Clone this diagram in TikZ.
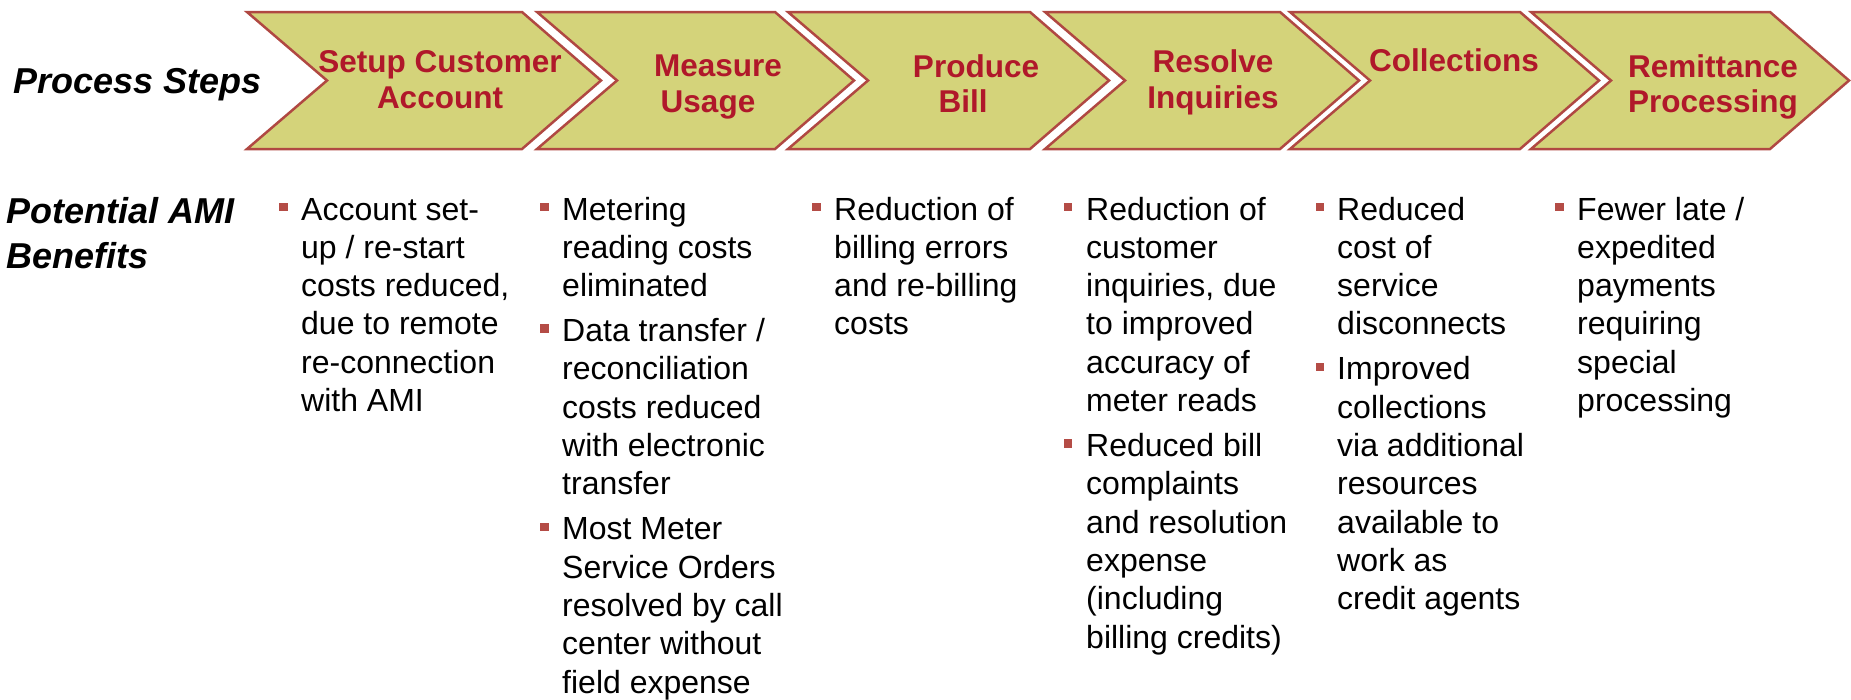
\documentclass[tikz,border=0pt]{standalone}
\usepackage{fontspec}
\setmainfont{Liberation Sans}
\definecolor{chevfill}{RGB}{212,211,122}
\definecolor{chevline}{RGB}{176,72,66}
\definecolor{chevtext}{RGB}{176,24,42}
\definecolor{bulletred}{RGB}{180,76,70}
\newcommand{\mylines}[1]{\begin{tabular}[t]{@{}l@{}}#1\end{tabular}}
\newcommand{\mycenter}[1]{\begin{tabular}[t]{@{}c@{}}#1\end{tabular}}
\begin{document}
\begin{tikzpicture}[x=1pt,y=-1pt,
  chev/.style={fill=chevfill, draw=chevline, line width=2.5pt, line join=miter},
  chevlabel/.style={text=chevtext, font=\fontsize{31.5}{35.5}\selectfont\bfseries, inner sep=0pt, anchor=base},
  sidelabel/.style={font=\fontsize{36}{45}\selectfont\bfseries\itshape, inner sep=0pt, anchor=base west},
  bul/.style={fill=bulletred, minimum size=8.5pt, inner sep=0pt},
  btext/.style={font=\fontsize{32}{38.3}\selectfont, inner sep=0pt, anchor=base west}]
\useasboundingbox (0,0) rectangle (1851,699);
% chevrons
\foreach \a/\b in {247/522, 537/775, 788/1030, 1045/1280, 1290/1520, 1531/1770}
  \draw[chev] (\a,12) -- (\b,12) -- ({\b+79},80.5) -- (\b,149) -- (\a,149) -- ({\a+80},80.5) -- cycle;
% chevron labels
\node[chevlabel] (s1) at (440,72.5) {\mycenter{Setup Customer\\Account}};
\node[chevlabel] (s2) at (718,76.5) {\mycenter{Measure\\Usage\hspace*{20pt}}};
\node[chevlabel] (s3) at (976,77) {\mycenter{Produce\\Bill\hspace*{26pt}}};
\node[chevlabel] (s4) at (1213,72.5) {\mycenter{Resolve\\Inquiries}};
\node[chevlabel] (s5) at (1454,71) {\mycenter{Collections}};
\node[chevlabel] (s6) at (1713,77) {\mycenter{Remittance\\Processing}};
% side labels
\node[sidelabel] (ps) at (13,93) {Process Steps};
\node[sidelabel] (pab) at (6,223) {\mylines{Potential AMI\\Benefits}};
% column 1
\node[bul] (b1a) at (283.5,207) {};
\node[btext] (t1a) at (301,220) {\mylines{Account set-\\up / re-start\\costs reduced,\\due to remote\\re-connection\\with AMI}};
% column 2
\node[bul] (b2a) at (544.5,207) {};
\node[btext] (t2a) at (562,220) {\mylines{Metering\\reading costs\\eliminated}};
\node[bul] (b2b) at (544.5,328.6) {};
\node[btext] (t2b) at (562,341.6) {\mylines{Data transfer /\\reconciliation\\costs reduced\\with electronic\\transfer}};
\node[bul] (b2c) at (544.5,526.8) {};
\node[btext] (t2c) at (562,539.8) {\mylines{Most Meter\\Service Orders\\resolved by call\\center without\\field expense}};
% column 3
\node[bul] (b3a) at (816.5,207) {};
\node[btext] (t3a) at (834,220) {\mylines{Reduction of\\billing errors\\and re-billing\\costs}};
% column 4
\node[bul] (b4a) at (1068,207) {};
\node[btext] (t4a) at (1086,220) {\mylines{Reduction of\\customer\\inquiries, due\\to improved\\accuracy of\\meter reads}};
\node[bul] (b4b) at (1068,443.5) {};
\node[btext] (t4b) at (1086,456.5) {\mylines{Reduced bill\\complaints\\and resolution\\expense\\(including\\billing credits)}};
% column 5
\node[bul] (b5a) at (1320,207) {};
\node[btext] (t5a) at (1337,220) {\mylines{Reduced\\cost of\\service\\disconnects}};
\node[bul] (b5b) at (1320,367) {};
\node[btext] (t5b) at (1337,379.9) {\mylines{Improved\\collections\\via additional\\resources\\available to\\work as\\credit agents}};
% column 6
\node[bul] (b6a) at (1559.5,207) {};
\node[btext] (t6a) at (1577,220) {\mylines{Fewer late /\\expedited\\payments\\requiring\\special\\processing}};
\end{tikzpicture}
\end{document}
